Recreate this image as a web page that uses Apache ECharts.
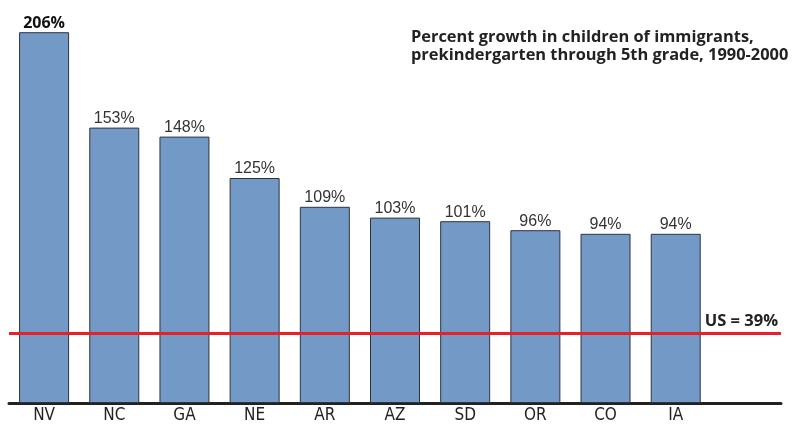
<!DOCTYPE html>
<html lang="en">
<head>
    <meta charset="UTF-8">
    <title>Percent growth</title>
    <style>
        html, body { margin: 0; padding: 0; background: #fff; }
        #main { width: 793px; height: 431px; }
    </style>
</head>
<body>
<div id="main"></div>
<script src="https://cdn.jsdelivr.net/npm/echarts@6/dist/echarts.min.js"></script>
<script>
    // data
    const states = ['NV', 'NC', 'GA', 'NE', 'AR', 'AZ', 'SD', 'OR', 'CO', 'IA'];
    const growth = [206, 153, 148, 125, 109, 103, 101, 96, 94, 94];
    const usGrowth = 39;

    const myChart = echarts.init(document.getElementById('main'), null, {renderer: 'canvas'});

    // one empty slot at the end so the axis runs past the last bar
    const cats = states.concat(['']);
    const barData = growth.map(function (v, i) {
        const item = {value: v};
        if (i === 0) {
            // the top bar gets a bold label
            item.label = {fontWeight: 'bold', color: '#111', fontFamily: 'Open Sans, sans-serif', fontSize: 16};
        }
        return item;
    });

    const option = {
        animation: false,
        title: {
            text: 'Percent growth in children of immigrants,\nprekindergarten through 5th grade, 1990-2000',
            left: 406,
            top: 23,
            textStyle: {
                fontFamily: 'Open Sans, sans-serif',
                fontSize: 16.4,
                fontWeight: 'bold',
                color: '#222',
                lineHeight: 18
            }
        },
        grid: {left: 9, right: 12, top: 7, bottom: 28},
        xAxis: {
            type: 'category',
            data: cats,
            axisLine: {lineStyle: {color: '#222', width: 3}},
            axisTick: {show: false},
            axisLabel: {
                color: '#222',
                fontSize: 17,
                fontFamily: 'Liberation Sans Narrow, DejaVu Sans Condensed, Liberation Sans, sans-serif',
                margin: 4
            }
        },
        yAxis: {
            type: 'value',
            min: 0,
            max: 220,
            show: false,
            splitLine: {show: false}
        },
        series: [{
            type: 'bar',
            data: barData,
            barWidth: 50,
            itemStyle: {color: '#7399c6', borderColor: '#2e3440', borderWidth: 1},
            label: {
                show: true,
                position: 'top',
                formatter: '{c}%',
                color: '#333',
                fontSize: 16,
                fontFamily: 'Liberation Sans, Arial, sans-serif',
                distance: 1
            },
            markLine: {
                symbol: 'none',
                silent: true,
                lineStyle: {color: '#e8202a', width: 3, type: 'solid'},
                label: {
                    position: 'insideEndTop',
                    formatter: 'US = 39%',
                    color: '#222',
                    fontWeight: 'bold',
                    fontSize: 16.5,
                    fontFamily: 'Open Sans, sans-serif',
                    distance: 3
                },
                data: [{yAxis: usGrowth}]
            }
        }]
    };

    myChart.setOption(option);
</script>
</body>
</html>
